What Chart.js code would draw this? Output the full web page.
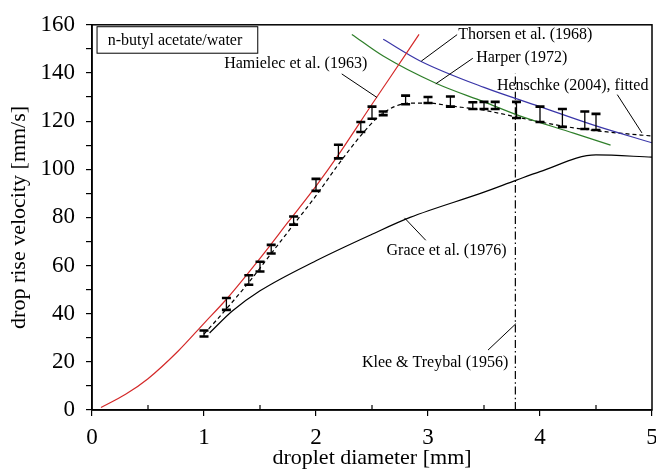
<!DOCTYPE html>
<html lang="en">
<head>
  <meta charset="UTF-8">
  <title>Drop rise velocity</title>
  <script src="https://cdn.jsdelivr.net/npm/chart.js"></script>
  <style>
    body { margin: 0; background: #fff; }
  </style>
</head>
<body>
  <canvas id="chart" width="656" height="471"></canvas>

  <script>
    // Hamielec et al. (1963)
    const hamX = [0.08, 0.3, 0.5, 0.77, 1.0, 1.2, 1.5, 1.75, 2.0, 2.2, 2.5, 2.66, 2.92];
    const hamY = [1, 6.5, 13, 24.5, 36, 46, 63, 78, 93, 106, 127, 138, 156];

    // Thorsen et al. (1968)
    const thoX = [2.6, 2.93, 3.5, 4.0, 4.5, 5.0];
    const thoY = [154, 145, 134, 126, 118, 111];

    // Harper (1972)
    const harX = [2.32, 2.6, 3.08, 3.5, 3.8, 4.3, 4.63];
    const harY = [156, 147, 135.5, 128, 122.5, 115, 110];

    // Henschke (2004), fitted
    const henX = [1.0, 1.2, 1.4, 1.6, 1.8, 2.0, 2.2, 2.4, 2.55, 2.7, 2.85, 3.0, 3.2, 3.5, 3.8, 4.05, 4.3, 4.6, 5.0];
    const henY = [31.5, 42, 53, 65, 77, 89, 102, 114, 121.5, 126, 127.5, 127.5, 126.3, 124.5, 121.6, 119.2, 117.2, 115.5, 113.8];

    // Grace et al. (1976)
    const graX = [1.05, 1.25, 1.5, 2.0, 2.5, 2.84, 3.5, 3.79, 4.0, 4.5, 5.0];
    const graY = [32, 41, 49.5, 62, 73, 80, 90.5, 95.5, 99, 106, 105];

    // Klee & Treybal (1956)
    const kleeX = [3.78, 3.78];
    const kleeY = [0, 140];

    // measured drop rise velocities (min / max)
    const errX  = [1.0, 1.2, 1.4, 1.5, 1.6, 1.8, 2.0, 2.2, 2.4, 2.5, 2.6, 2.8, 3.0, 3.2, 3.4, 3.5, 3.6, 3.79, 4.0, 4.2, 4.4, 4.5];
    const errLo = [30.5, 41.6, 52, 57.5, 65, 77, 91, 104.5, 115.5, 121, 122.5, 127, 127.5, 126, 125, 125, 125, 121.3, 119.6, 117.6, 116.7, 116.3];
    const errHi = [33, 46.5, 56, 61.6, 68.6, 80.4, 96, 110.2, 119.6, 126, 124, 130.6, 130, 130.2, 127.8, 128, 128, 128, 126, 125, 124, 123];

    const toPts = (xs, ys) => xs.map((x, i) => ({ x: x, y: ys[i] }));
    const serif = '"Liberation Serif", "Times New Roman", serif';

    function line(label, xs, ys, color, dash) {
      return {
        label: label,
        data: toPts(xs, ys),
        showLine: true,
        borderColor: color,
        borderWidth: 1.2,
        borderDash: dash || [],
        pointRadius: 0,
        cubicInterpolationMode: 'monotone',
        fill: false
      };
    }

    // labels with leader lines, placed in data units
    const notes = [
      { text: 'Hamielec et al. (1963)', x: 1.18, y: 143.7, from: [2.23, 139.6], to: [2.545, 129.8] },
      { text: 'Thorsen et al. (1968)', x: 3.27, y: 155.9, from: [3.26, 155.9], to: [2.94, 144.9] },
      { text: 'Harper (1972)', x: 3.43, y: 146.5, from: [3.40, 146.1], to: [3.07, 135.5] },
      { text: 'Henschke (2004), fitted', x: 3.615, y: 134.7, from: [4.69, 131], to: [4.91, 115.1] },
      { text: 'Grace et al. (1976)', x: 2.63, y: 66.1, from: [2.79, 79.8], to: [2.98, 70.5] },
      { text: 'Klee & Treybal (1956)', x: 2.41, y: 19.6, from: [3.536, 24.9], to: [3.786, 35.9] }
    ];

    const extras = {
      id: 'extras',
      afterDatasetsDraw(chart) {
        const c = chart.ctx, xs = chart.scales.x, ys = chart.scales.y;
        const a = chart.chartArea;
        c.save();
        // frame
        c.strokeStyle = '#000';
        c.lineWidth = 1.5;
        c.strokeRect(a.left, a.top, a.right - a.left, a.bottom - a.top);

        // minor x ticks point inwards
        c.lineWidth = 1.2;
        c.beginPath();
        xs.ticks.forEach(t => {
          if (Number.isInteger(t.value)) return;
          const px = xs.getPixelForValue(t.value);
          c.moveTo(px, a.bottom); c.lineTo(px, a.bottom - 5);
        });
        c.stroke();

        // error bars
        c.lineWidth = 1.3;
        errX.forEach((x, i) => {
          const px = xs.getPixelForValue(x);
          const lo = ys.getPixelForValue(errLo[i]);
          const hi = ys.getPixelForValue(errHi[i]);
          c.beginPath();
          c.moveTo(px, lo); c.lineTo(px, hi);
          c.stroke();
          c.save();
          c.lineWidth = 2.6;
          c.beginPath();
          c.moveTo(px - 4.5, lo); c.lineTo(px + 4.5, lo);
          c.moveTo(px - 4.5, hi); c.lineTo(px + 4.5, hi);
          c.stroke();
          c.restore();
        });

        // legend box
        const bx = xs.getPixelForValue(0.045), by = ys.getPixelForValue(159.2);
        const bw = xs.getPixelForValue(1.48) - bx, bh = ys.getPixelForValue(148.2) - by;
        c.lineWidth = 1;
        c.strokeRect(bx, by, bw, bh);
        c.fillStyle = '#000';
        c.font = '16px ' + serif;
        c.textBaseline = 'middle';
        c.fillText('n-butyl acetate/water', xs.getPixelForValue(0.14), ys.getPixelForValue(153.5));

        // annotations
        c.lineWidth = 1;
        notes.forEach(n => {
          c.fillText(n.text, xs.getPixelForValue(n.x), ys.getPixelForValue(n.y));
          c.beginPath();
          c.moveTo(xs.getPixelForValue(n.from[0]), ys.getPixelForValue(n.from[1]));
          c.lineTo(xs.getPixelForValue(n.to[0]), ys.getPixelForValue(n.to[1]));
          c.stroke();
        });
        c.restore();
      }
    };

    new Chart(document.getElementById('chart'), {
      type: 'scatter',
      data: {
        datasets: [
          line('Hamielec et al. (1963)', hamX, hamY, '#d42a2a'),
          line('Thorsen et al. (1968)', thoX, thoY, '#3a36a8'),
          line('Harper (1972)', harX, harY, '#2f7f2a'),
          line('Henschke (2004), fitted', henX, henY, '#000', [4, 3]),
          line('Grace et al. (1976)', graX, graY, '#000'),
          line('Klee & Treybal (1956)', kleeX, kleeY, '#000', [8, 3, 1.5, 3])
        ]
      },
      options: {
        responsive: false,
        animation: false,
        layout: { padding: { top: 18, right: 4, left: 0, bottom: 0 } },
        plugins: { legend: { display: false }, tooltip: { enabled: false } },
        scales: {
          x: {
            type: 'linear', min: 0, max: 5,
            afterFit: s => { s.height = 61; s.paddingRight = 0; s.paddingLeft = 0; },
            grid: {
              drawOnChartArea: false, tickLength: 6, lineWidth: 1.2,
              color: ctx => Number.isInteger(ctx.tick.value) ? '#000' : 'rgba(0,0,0,0)'
            },
            border: { color: '#000', width: 1.5 },
            ticks: {
              stepSize: 0.5, autoSkip: false, maxRotation: 0, padding: 8,
              color: '#000', font: { family: serif, size: 23 },
              callback: v => Number.isInteger(v) ? v : ''
            },
            title: { display: true, text: 'droplet diameter [mm]', color: '#000', font: { family: serif, size: 22 }, padding: { top: 4, bottom: 0 } }
          },
          y: {
            min: 0, max: 160,
            afterFit: s => { s.width = 92; },
            grid: { drawOnChartArea: false, color: '#000', tickLength: 6, lineWidth: 1.2 },
            border: { color: '#000', width: 1.5 },
            ticks: {
              stepSize: 10, autoSkip: false, padding: 11,
              color: '#000', font: { family: serif, size: 23 },
              callback: v => v % 20 === 0 ? v : ''
            },
            title: { display: true, text: 'drop rise velocity [mm/s]', color: '#000', font: { family: serif, size: 22 }, padding: { top: 6, bottom: 4 } }
          }
        }
      },
      plugins: [extras]
    });
  </script>
</body>
</html>
